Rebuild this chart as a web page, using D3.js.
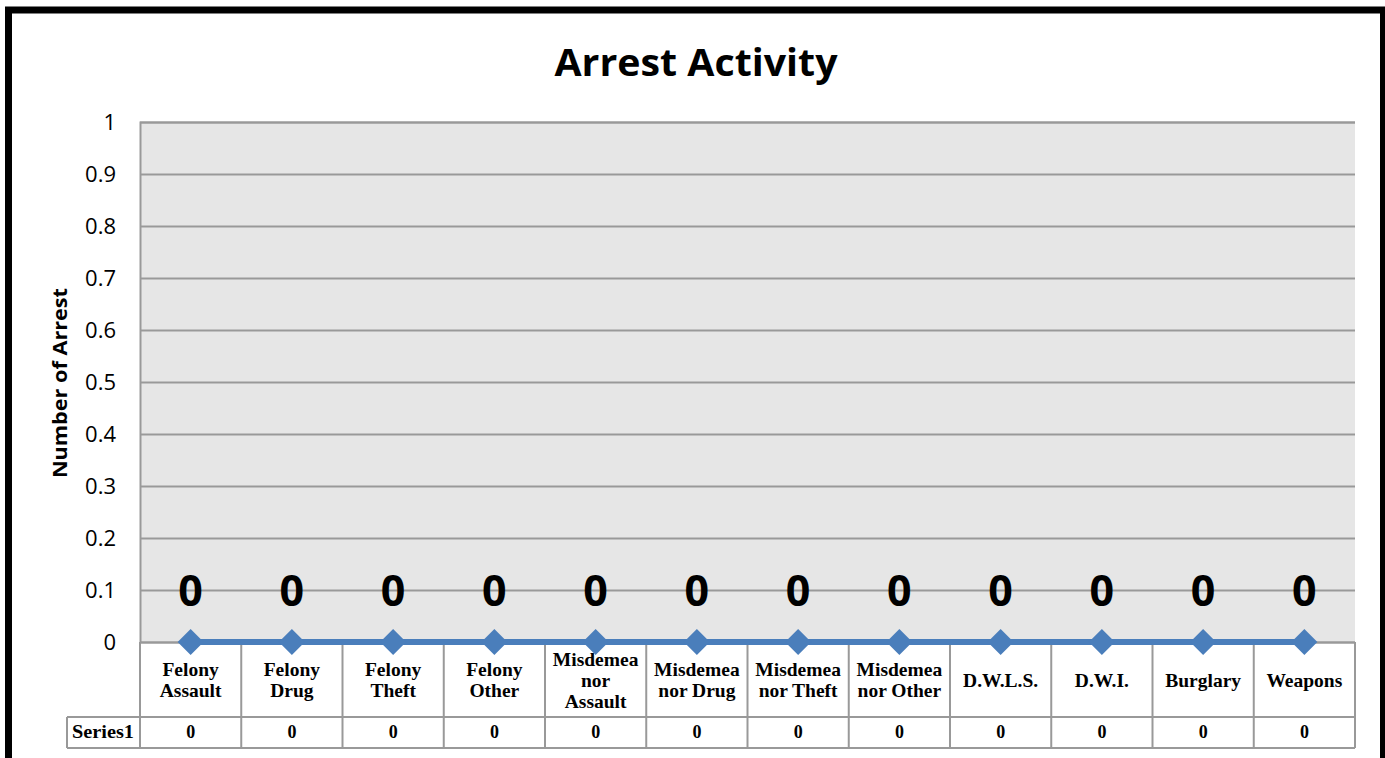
<!DOCTYPE html>
<html><head><meta charset="utf-8">
<script src="https://cdn.jsdelivr.net/npm/d3@7"></script>
<style>body{margin:0;background:#fff}svg{display:block}</style>
</head><body>
<svg id="c" width="1385" height="758"></svg>
<script>
const categories = [["Felony","Assault"],["Felony","Drug"],["Felony","Theft"],["Felony","Other"],["Misdemea","nor","Assault"],["Misdemea","nor Drug"],["Misdemea","nor Theft"],["Misdemea","nor Other"],["D.W.L.S."],["D.W.I."],["Burglary"],["Weapons"]];
const seriesName = "Series1";
const values = [0,0,0,0,0,0,0,0,0,0,0,0];
const yTicks = [0,0.1,0.2,0.3,0.4,0.5,0.6,0.7,0.8,0.9,1];

const svg = d3.select("#c");
const L=140,R=1355,T=122,B=642;
const x = d3.scaleBand().domain(d3.range(categories.length)).range([L,R]);
const y = d3.scaleLinear().domain([0,1]).range([B,T]);

svg.append("rect").attr("x",8.5).attr("y",10).attr("width",1375).attr("height",760).attr("fill","none").attr("stroke","#000").attr("stroke-width",7);

svg.append("text").attr("x",696).attr("y",76).attr("text-anchor","middle")
 .attr("font-family","Open Sans").attr("font-weight","bold").attr("font-size",38).attr("textLength",283).attr("lengthAdjust","spacingAndGlyphs").text("Arrest Activity");

svg.append("rect").attr("x",L).attr("y",T).attr("width",R-L).attr("height",B-T).attr("fill","#e6e6e6");

const yAxis = d3.axisLeft(y).tickValues(yTicks).tickSize(-(R-L)).tickFormat(d=>d3.format("")(d));
const ga = svg.append("g").attr("transform",`translate(${L},0)`).call(yAxis);
ga.select(".domain").attr("stroke","#999").attr("stroke-width",2);
ga.selectAll(".tick line").attr("stroke","#999").attr("stroke-width",2);
ga.selectAll(".tick text").attr("x",-24).attr("font-family","Open Sans").attr("font-size",22).attr("fill","#000");

svg.append("text").attr("transform","translate(67,383) rotate(-90)").attr("text-anchor","middle")
 .attr("font-family","Open Sans").attr("font-weight","bold").attr("font-size",20).attr("textLength",190).attr("lengthAdjust","spacingAndGlyphs").text("Number of Arrest");

const tg = svg.append("g").attr("stroke","#999").attr("stroke-width",2).attr("fill","none");
const rowTop=B,rowMid=717,rowBot=748;
tg.append("line").attr("x1",67).attr("x2",R).attr("y1",rowMid).attr("y2",rowMid);
tg.append("line").attr("x1",67).attr("x2",R).attr("y1",rowBot).attr("y2",rowBot);
tg.append("line").attr("x1",67).attr("x2",67).attr("y1",rowMid).attr("y2",rowBot);
tg.append("line").attr("x1",R).attr("x2",R).attr("y1",rowTop).attr("y2",rowBot);
tg.append("line").attr("x1",L).attr("x2",L).attr("y1",rowTop).attr("y2",rowBot);
categories.forEach((c,i)=>{ if(i>0) tg.append("line").attr("x1",x(i)).attr("x2",x(i)).attr("y1",rowTop).attr("y2",rowBot); });

categories.forEach((c,i)=>{
  const cx = x(i)+x.bandwidth()/2;
  const lh=21, n=c.length, cy=(rowTop+rowMid)/2+1;
  const t = svg.append("text").attr("text-anchor","middle").attr("font-family","Liberation Serif").attr("font-weight","bold").attr("font-size",19.5);
  c.forEach((s,j)=>t.append("tspan").attr("x",cx).attr("y",cy+(j-(n-1)/2)*lh+6).text(s));
  svg.append("text").attr("x",cx).attr("y",rowBot-10).attr("text-anchor","middle").attr("font-family","Liberation Serif").attr("font-weight","bold").attr("font-size",18).text(values[i]);
});
svg.append("text").attr("x",103).attr("y",rowBot-10).attr("text-anchor","middle").attr("font-family","Liberation Serif").attr("font-weight","bold").attr("font-size",18).attr("textLength",62).attr("lengthAdjust","spacingAndGlyphs").text(seriesName);

const cxs = i=>x(i)+x.bandwidth()/2;
svg.append("path").datum(values).attr("fill","none").attr("stroke","#4a7ebb").attr("stroke-width",6)
 .attr("d",d3.line().x((d,i)=>cxs(i)).y(d=>y(d)));
svg.selectAll(".mk").data(values).join("path").attr("fill","#4a7ebb")
 .attr("transform",(d,i)=>`translate(${cxs(i)},${y(d)})`).attr("d","M0,-13L13,0L0,13L-13,0Z");
svg.selectAll(".lb").data(values).join("text").attr("x",(d,i)=>cxs(i)).attr("y",d=>y(d)-36)
 .attr("text-anchor","middle").attr("font-family","Open Sans").attr("font-weight","bold").attr("font-size",43).text(d=>d);
</script>
</body></html>
